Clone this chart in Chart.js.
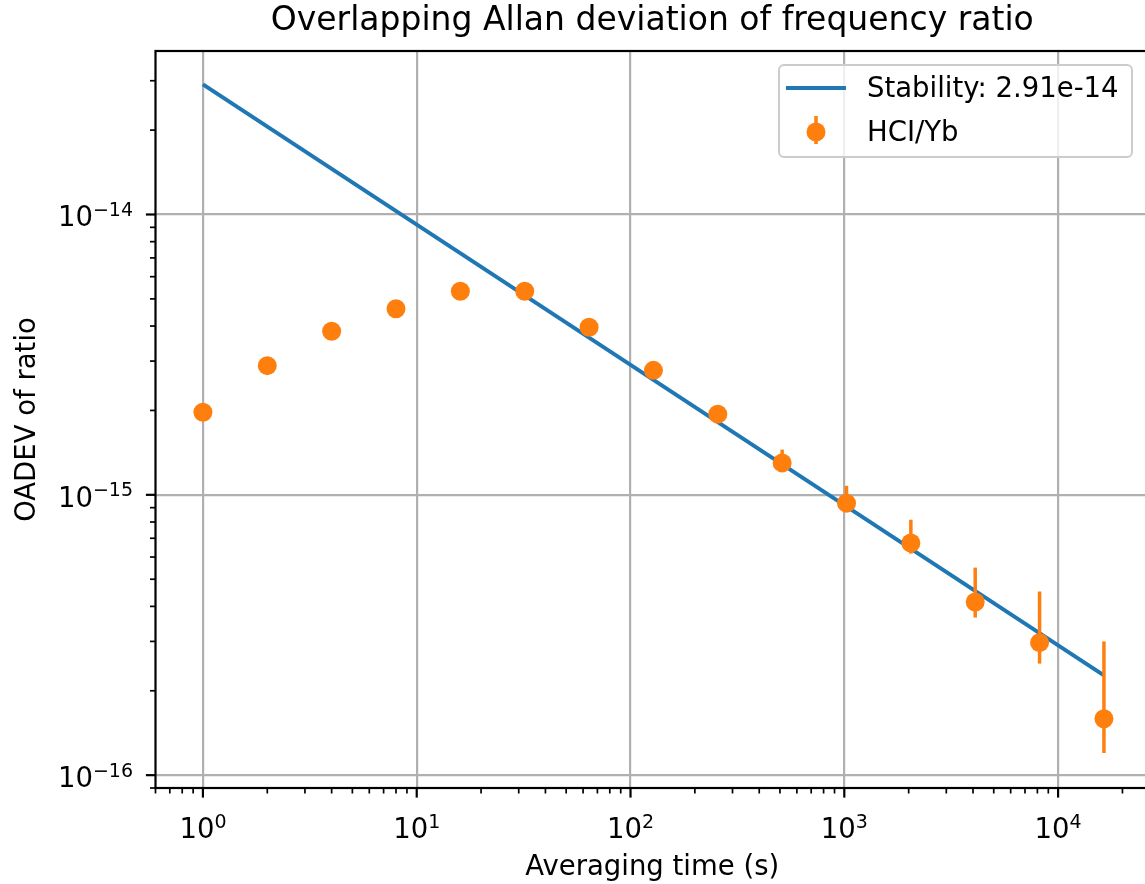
<!DOCTYPE html>
<html>
<head>
<meta charset="utf-8">
<title>Overlapping Allan deviation</title>
<script src="https://cdn.jsdelivr.net/npm/chart.js@4/dist/chart.umd.min.js"></script>
<style>
  html, body { margin: 0; padding: 0; background: #fff; overflow: hidden; }
  canvas { display: block; }
</style>
</head>
<body>
<canvas id="adev-chart" width="1149" height="884"></canvas>
<script>
// averaging times (s) and measured overlapping ADEV
const tauValues = [1, 2, 4, 8, 16, 32, 64, 128, 256, 512, 1024, 2048, 4096, 8192, 16384];
const oadevValues = [1.97e-15, 2.89e-15, 3.83e-15, 4.61e-15, 5.32e-15, 5.32e-15, 3.96e-15,
    2.78e-15, 1.94e-15, 1.30e-15, 9.34e-16, 6.73e-16, 4.15e-16, 2.97e-16, 1.59e-16];
// error bar ends
const errLower = [1.89e-15, 2.79e-15, 3.70e-15, 4.45e-15, 5.13e-15, 5.12e-15, 3.80e-15,
    2.66e-15, 1.86e-15, 1.24e-15, 8.9e-16, 6.17e-16, 3.65e-16, 2.50e-16, 1.20e-16];
const errUpper = [2.05e-15, 2.99e-15, 3.96e-15, 4.77e-15, 5.51e-15, 5.52e-15, 4.12e-15,
    2.90e-15, 2.03e-15, 1.45e-15, 1.077e-15, 8.15e-16, 5.50e-16, 4.52e-16, 3.00e-16];

// white-noise fit line end points
const stabilityTau = [1, 16384];
const stabilityValues = [2.91e-14, 2.27e-16];

// labelled decades
const xMajorTicks = [1, 10, 100, 1000, 10000];
const yMajorTicks = [1e-16, 1e-15, 1e-14];

const BLUE = '#1f77b4';
const ORANGE = '#ff7f0e';
const FONT = 'DejaVu Sans';
const TEXT_SIZE = 27.5;
const SUP_SIZE = 19;

function isMajor(v) {
    const e = Math.round(Math.log10(v));
    return Math.abs(v / Math.pow(10, e) - 1) < 1e-6;
}

// majors plus 2..9 minors per decade, kept inside the axis range
function logTicks(min, max) {
    const ticks = [];
    for (let e = Math.floor(Math.log10(min)); e <= Math.ceil(Math.log10(max)); e++) {
        for (let d = 1; d <= 9; d++) {
            const v = d * Math.pow(10, e);
            if (v >= min && v <= max) ticks.push({value: v, major: d === 1});
        }
    }
    return ticks;
}

// "10" with a raised exponent, like matplotlib mathtext
function drawPowLabel(ctx, v, x, baseline, align) {
    const exp = String(Math.round(Math.log10(v))).replace('-', '\u2212');
    ctx.font = TEXT_SIZE + 'px "' + FONT + '"';
    const wBase = ctx.measureText('10').width;
    ctx.font = SUP_SIZE + 'px "' + FONT + '"';
    const wExp = ctx.measureText(exp).width;
    const left = align === 'center' ? x - (wBase + wExp) / 2 : x - (wBase + wExp);
    ctx.font = TEXT_SIZE + 'px "' + FONT + '"';
    ctx.fillText('10', left, baseline);
    ctx.font = SUP_SIZE + 'px "' + FONT + '"';
    ctx.fillText(exp, left + wBase, baseline - 10.5);
}

const errorBars = {
    id: 'errorBars',
    beforeDatasetDraw(chart, args) {
        if (args.index !== 1) return;
        const {ctx, scales: {x, y}} = chart;
        ctx.save();
        ctx.strokeStyle = ORANGE;
        ctx.lineWidth = 3.5;
        tauValues.forEach((t, i) => {
            const px = x.getPixelForValue(t);
            ctx.beginPath();
            ctx.moveTo(px, y.getPixelForValue(errLower[i]));
            ctx.lineTo(px, y.getPixelForValue(errUpper[i]));
            ctx.stroke();
        });
        ctx.restore();
    }
};

// matplotlib-like frame, outward tick marks, tick labels and legend
const axesFrame = {
    id: 'axesFrame',
    afterDatasetsDraw(chart) {
        const {ctx, chartArea: a, scales: {x, y}} = chart;
        ctx.save();
        ctx.strokeStyle = '#000';
        x.ticks.forEach(t => {
            const px = x.getPixelForValue(t.value);
            const major = isMajor(t.value);
            ctx.lineWidth = major ? 2.2 : 1.7;
            ctx.beginPath();
            ctx.moveTo(px, a.bottom);
            ctx.lineTo(px, a.bottom + (major ? 9.6 : 5.5));
            ctx.stroke();
        });
        y.ticks.forEach(t => {
            const py = y.getPixelForValue(t.value);
            const major = isMajor(t.value);
            ctx.lineWidth = major ? 2.2 : 1.7;
            ctx.beginPath();
            ctx.moveTo(a.left, py);
            ctx.lineTo(a.left - (major ? 9.6 : 5.5), py);
            ctx.stroke();
        });
        ctx.lineWidth = 2.2;
        ctx.strokeRect(a.left, a.top, a.right - a.left, a.bottom - a.top);

        ctx.fillStyle = '#000';
        ctx.textAlign = 'left';
        ctx.textBaseline = 'alphabetic';
        xMajorTicks.forEach(v => {
            drawPowLabel(ctx, v, x.getPixelForValue(v), a.bottom + 50, 'center');
        });
        yMajorTicks.forEach(v => {
            drawPowLabel(ctx, v, a.left - 22.5, y.getPixelForValue(v) + 12, 'right');
        });
        ctx.restore();
    },
    afterDraw(chart) {
        const {ctx} = chart;
        const ds = chart.data.datasets;
        ctx.save();
        ctx.beginPath();
        ctx.roundRect(779, 65, 353, 92, 5);
        ctx.fillStyle = 'rgba(255,255,255,0.8)';
        ctx.fill();
        ctx.strokeStyle = '#cccccc';
        ctx.lineWidth = 2;
        ctx.stroke();

        ctx.strokeStyle = BLUE;
        ctx.lineWidth = 4;
        ctx.beginPath();
        ctx.moveTo(786, 88);
        ctx.lineTo(846, 88);
        ctx.stroke();

        ctx.strokeStyle = ORANGE;
        ctx.lineWidth = 3.5;
        ctx.beginPath();
        ctx.moveTo(816, 116);
        ctx.lineTo(816, 144);
        ctx.stroke();
        ctx.fillStyle = ORANGE;
        ctx.beginPath();
        ctx.arc(816, 132, 9.5, 0, Math.PI * 2);
        ctx.fill();

        ctx.fillStyle = '#000';
        ctx.font = TEXT_SIZE + 'px "' + FONT + '"';
        ctx.textBaseline = 'alphabetic';
        ctx.fillText(ds[0].label, 867, 97);
        ctx.fillText(ds[1].label, 867, 141);
        ctx.restore();
    }
};

const gridColor = c => (c.tick && isMajor(c.tick.value)) ? '#b0b0b0' : 'rgba(0,0,0,0)';

new Chart(document.getElementById('adev-chart'), {
    type: 'scatter',
    data: {
        datasets: [{
            type: 'line',
            label: 'Stability: 2.91e-14',
            data: stabilityTau.map((t, i) => ({x: t, y: stabilityValues[i]})),
            borderColor: BLUE,
            borderWidth: 4,
            pointRadius: 0,
            fill: false,
            order: 1
        }, {
            label: 'HCI/Yb',
            data: tauValues.map((t, i) => ({x: t, y: oadevValues[i]})),
            backgroundColor: ORANGE,
            borderWidth: 0,
            pointRadius: 9.5,
            order: 0
        }]
    },
    options: {
        responsive: false,
        animation: false,
        layout: {padding: 0, autoPadding: false},
        plugins: {
            legend: {display: false},
            tooltip: {enabled: false},
            title: {
                display: true,
                fullSize: false,
                text: 'Overlapping Allan deviation of frequency ratio',
                color: '#000',
                font: {family: FONT, size: 33, weight: 'normal', lineHeight: 1.2},
                padding: {top: 1.8, bottom: 9.6}
            }
        },
        scales: {
            x: {
                type: 'logarithmic',
                min: 0.6156,
                max: 26620,
                afterBuildTicks: s => { s.ticks = logTicks(s.min, s.max); },
                afterFit: s => { s.height = 96; s.paddingLeft = 0; s.paddingRight = 0; },
                grid: {color: gridColor, lineWidth: 2.2, drawTicks: false},
                border: {display: false},
                ticks: {display: false},
                title: {
                    display: true,
                    text: 'Averaging time (s)',
                    color: '#000',
                    font: {family: FONT, size: TEXT_SIZE, lineHeight: 1.2},
                    padding: {top: 0, bottom: 0}
                }
            },
            y: {
                type: 'logarithmic',
                min: 9.12e-17,
                max: 3.83e-14,
                afterBuildTicks: s => { s.ticks = logTicks(s.min, s.max); },
                afterFit: s => { s.width = 155.5; s.paddingTop = 0; s.paddingBottom = 0; },
                grid: {color: gridColor, lineWidth: 2.2, drawTicks: false},
                border: {display: false},
                ticks: {display: false},
                title: {
                    display: true,
                    text: 'OADEV of ratio',
                    color: '#000',
                    font: {family: FONT, size: TEXT_SIZE, lineHeight: 1.2},
                    padding: {top: 11, bottom: 0}
                }
            }
        }
    },
    plugins: [errorBars, axesFrame]
});
</script>
</body>
</html>
